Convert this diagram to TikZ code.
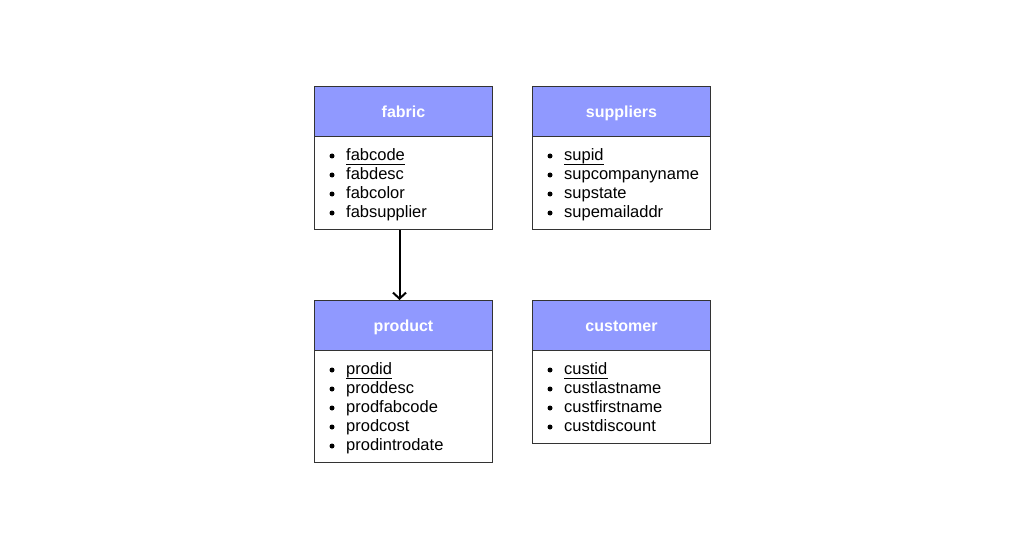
\documentclass[tikz,border=0pt]{standalone}
\usepackage{fontspec}
\setmainfont{Liberation Sans}
\usetikzlibrary{arrows.meta}
\definecolor{hdrblue}{RGB}{144,153,255}
\definecolor{boxline}{RGB}{51,51,51}
\newcommand\erentity[6]{%
  \node[hdr] (#1-h) at (#2,#3) {#5};
  \node[body, minimum height=#4pt] (#1-b) at (#2,#3+50) {};
  \foreach \t [count=\i] in {#6} {
    \node[bul] (#1-d\i) at (#2+18,#3+50+19*\i+1) {};
    \node[item] (#1-t\i) at (#2+32,#3+50+19*\i+5.5) {\t};
  }
  \draw[line width=0.9pt] ([yshift=-4pt]#1-t1.base west) -- ([yshift=-4pt]#1-t1.base east);
}
\begin{document}
\begin{tikzpicture}[x=1pt,y=-1pt,
  hdr/.style={draw=boxline, fill=hdrblue, line width=1pt, minimum width=178pt, minimum height=50pt, inner sep=0pt, anchor=north west, font=\fontsize{16}{19}\selectfont\bfseries, text=white, text height=12pt, text depth=0pt},
  body/.style={draw=boxline, fill=white, line width=1pt, minimum width=178pt, inner sep=0pt, anchor=north west},
  item/.style={anchor=base west, inner sep=0pt, font=\fontsize{16.5}{19}\selectfont},
  bul/.style={circle, fill=black, inner sep=0pt, minimum size=5pt}]
\fill[white] (0,0) rectangle (1024,548);
\useasboundingbox (0,0) rectangle (1024,548);
\erentity{fabric}{314}{86}{93}{fabric}{fabcode,fabdesc,fabcolor,fabsupplier}
\erentity{suppliers}{532}{86}{93}{suppliers}{supid,supcompanyname,supstate,supemailaddr}
\erentity{product}{314}{300}{112}{product}{prodid,proddesc,prodfabcode,prodcost,prodintrodate}
\erentity{customer}{532}{300}{93}{customer}{custid,custlastname,custfirstname,custdiscount}
\draw[-{Straight Barb[length=6pt,width=13pt]}, line width=2pt] ([xshift=-4pt]fabric-b.south) -- ([xshift=-4pt]product-h.north);
\end{tikzpicture}
\end{document}
